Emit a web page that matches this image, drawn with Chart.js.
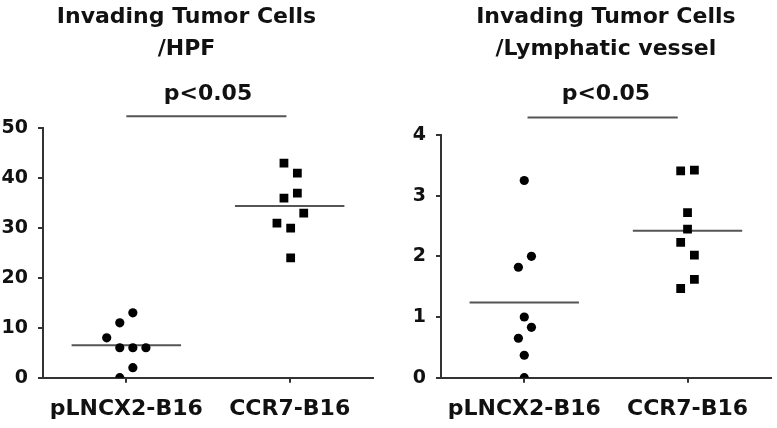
<!DOCTYPE html>
<html><head><meta charset="utf-8">
<script src="https://cdn.jsdelivr.net/npm/chart.js@4"></script>
<style>
html,body{margin:0;padding:0;background:#fff;}
#wrap{position:relative;width:777px;height:428px;overflow:hidden;background:#fff;}
canvas{position:absolute;top:0;}
#c1{left:0}
#c2{left:390px}
</style></head><body>
<div id="wrap"><canvas id="c1" width="404" height="428"></canvas><canvas id="c2" width="387" height="428"></canvas></div>
<script>
const categories = ['pLNCX2-B16', 'CCR7-B16'];

// Left panel: Invading Tumor Cells / HPF
const hpfTitle = ['Invading Tumor Cells', '/HPF'];
const hpfControl = [13, 11, 8, 6, 6, 6, 2, 0];
const hpfControlJitter = [0.04, -0.04, -0.12, -0.04, 0.04, 0.12, 0.04, -0.04];
const hpfCcr7 = [43, 41, 37, 36, 33, 31, 30, 24];
const hpfCcr7Jitter = [-0.035, 0.047, 0.047, -0.035, 0.086, -0.078, 0.006, 0.006];
const hpfMeans = [6.5, 34.4];
const hpfBracketX = [0, 0.98];
const hpfBracketY = 52.4;

// Right panel: Invading Tumor Cells / Lymphatic vessel
const lymTitle = ['Invading Tumor Cells', '/Lymphatic vessel'];
const lymControl = [3.25, 2.0, 1.82, 1.0, 0.83, 0.65, 0.37, 0];
const lymControlJitter = [0, 0.044, -0.036, 0, 0.044, -0.036, 0, 0];
const lymCcr7 = [3.41, 3.42, 2.72, 2.45, 2.23, 2.02, 1.62, 1.47];
const lymCcr7Jitter = [-0.042, 0.042, 0, 0, -0.042, 0.042, 0.042, -0.042];
const lymMeans = [1.24, 2.42];
const lymBracketX = [0.02, 0.94];
const lymBracketY = 4.29;

const pText = 'p<0.05';
const FONT = 'DejaVu Sans';
const INK = '#111';
const AXIS = '#333';
const LINE = '#555';

function pts(vals, jit, idx) { return vals.map((v, i) => ({x: idx + jit[i], y: v})); }
function hline(idx, y) { return [{x: idx - 0.335, y: y}, {x: idx + 0.335, y: y}]; }

function build(canvas, o) {
  const datasets = [
    {data: pts(o.a, o.aj, 0), pointStyle: 'circle', pointRadius: 4.6, backgroundColor: '#000', borderWidth: 0},
    {data: pts(o.b, o.bj, 1), pointStyle: 'rect', pointRadius: 6.2, backgroundColor: '#000', borderWidth: 0},
    {data: hline(0, o.means[0]), showLine: true, borderColor: LINE, borderWidth: 2, pointRadius: 0},
    {data: hline(1, o.means[1]), showLine: true, borderColor: LINE, borderWidth: 2, pointRadius: 0},
    {data: [{x: o.bx[0], y: o.by}, {x: o.bx[1], y: o.by}], showLine: true, borderColor: LINE, borderWidth: 2, pointRadius: 0, clip: false}
  ];
  return new Chart(canvas, {
    type: 'scatter',
    data: {datasets},
    options: {
      responsive: false, animation: false, events: [],
      layout: {padding: {left: 0, right: o.padR, top: 0, bottom: 0}},
      plugins: {
        legend: {display: false}, tooltip: {enabled: false},
        title: {display: true, text: o.title, color: INK, fullSize: o.titleFull,
          font: {family: FONT, weight: 'bold', size: 22, lineHeight: 1.47}, padding: {top: 1, bottom: 0}},
        subtitle: {display: true, text: pText, color: INK, fullSize: false,
          font: {family: FONT, weight: 'bold', size: 22, lineHeight: 1.2}, padding: {top: 15.6, bottom: o.subBottom}}
      },
      scales: {
        x: {
          type: 'linear', min: -0.51, max: 1.51,
          afterBuildTicks: s => { s.ticks = [{value: 0}, {value: 1}]; },
          afterFit: s => { s.height = 50.3; s.paddingLeft = 0; s.paddingRight = 0; },
          ticks: {callback: v => categories[v], color: INK, padding: 13, maxRotation: 0, autoSkip: false,
            font: {family: FONT, weight: 'bold', size: 22, lineHeight: 1.2}},
          grid: {drawOnChartArea: false, drawTicks: true, tickLength: 5, color: AXIS, lineWidth: 2},
          border: {display: true, color: AXIS, width: 2}
        },
        y: {
          min: 0, max: o.ymax,
          afterFit: s => { s.width = o.yw; },
          ticks: {stepSize: o.step, color: INK, padding: 10,
            font: {family: FONT, weight: 'bold', size: 19}},
          grid: {drawOnChartArea: false, drawTicks: true, tickLength: 5, color: AXIS, lineWidth: 2},
          border: {display: true, color: AXIS, width: 2}
        }
      }
    }
  });
}

build(document.getElementById('c1'), {
  title: hpfTitle, titleFull: true, a: hpfControl, aj: hpfControlJitter, b: hpfCcr7, bj: hpfCcr7Jitter,
  means: hpfMeans, bx: hpfBracketX, by: hpfBracketY, ymax: 50, step: 10, yw: 43, padR: 31, subBottom: 20.6
});
build(document.getElementById('c2'), {
  title: lymTitle, titleFull: false, a: lymControl, aj: lymControlJitter, b: lymCcr7, bj: lymCcr7Jitter,
  means: lymMeans, bx: lymBracketX, by: lymBracketY, ymax: 4, step: 1, yw: 51, padR: 0, subBottom: 27.3
});
</script>
</body></html>
